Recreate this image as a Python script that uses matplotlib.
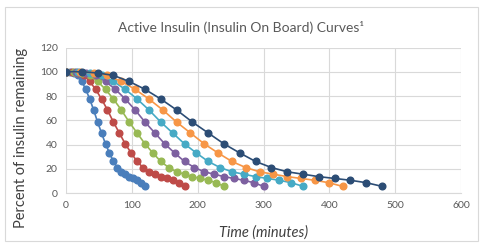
import numpy as np
import matplotlib
matplotlib.use("Agg")
import matplotlib.pyplot as plt
from matplotlib.patches import Rectangle

plt.rcParams['font.family'] = ['Lato', 'DejaVu Sans']

# insulin action durations (minutes), one curve each
durations = [120, 180, 240, 300, 360, 420, 480]
colors = ['#4A7EBB', '#BE4B48', '#98B954', '#7D60A0', '#46AAC5', '#F79646', '#2C4D75']

# percent remaining at 21 evenly spaced points over each duration (same profile scaled)
pct_remaining = [100, 100, 99, 97, 92, 85.5, 77.5, 68.5, 58.5, 49.5, 40.5,
                 33, 26, 21, 17.5, 15.5, 13.5, 12, 10.5, 8.5, 5.5]

xticks = [0, 100, 200, 300, 400, 500, 600]
yticks = [0, 20, 40, 60, 80, 100, 120]

fig = plt.figure(figsize=(4.82, 2.43), dpi=100)
ax = fig.add_axes([66/482, 1-193/243, 395/482, (193-47.5)/243])

for d, c in zip(durations, colors):
    t = np.linspace(0, d, len(pct_remaining))
    ax.plot(t, pct_remaining, '-o', color=c, lw=1.2, ms=4.8, mec=c, zorder=3)

ax.set_xlim(0, 600)
ax.set_ylim(0, 120)
ax.set_xticks(xticks)
ax.set_yticks(yticks)
ax.grid(True, color='#D9D9D9', lw=0.8)
ax.set_axisbelow(True)
for s in ['top', 'right', 'left']:
    ax.spines[s].set_visible(False)
ax.spines['bottom'].set_color('#D9D9D9')
ax.tick_params(length=0, labelsize=7.5, colors='#595959', pad=6)

ax.set_xlabel('Time (minutes)', fontsize=10.5, style='italic', color='#404040')
ax.xaxis.set_label_coords(0.5, -0.22)
ax.set_ylabel('Percent of insulin remaining', fontsize=10.5, color='#404040')
ax.yaxis.set_label_coords(-0.097, 0.38)
fig.text(0.5, 1-27/243, 'Active Insulin (Insulin On Board) Curves\u00b9', ha='center', va='center',
         fontsize=10, color='#595959')

fig.patches.append(Rectangle((5/482, 2/243), 473/482, 234/243, transform=fig.transFigure,
                             fill=False, ec='#D9D9D9', lw=0.8))

fig.savefig('out.png', dpi=100)
